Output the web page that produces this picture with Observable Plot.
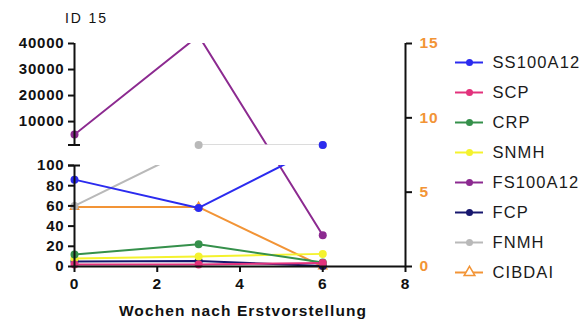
<!DOCTYPE html>
<html><head><meta charset="utf-8">
<script src="https://cdn.jsdelivr.net/npm/d3@7"></script>
<script src="https://cdn.jsdelivr.net/npm/@observablehq/plot@0.6"></script>
<style>
body{margin:0;background:#fff;}
#chart{position:relative;width:587px;height:325px;font-family:"Liberation Sans",Arial,Helvetica,sans-serif;color:#111;}
#chart svg{position:absolute;left:0;top:0;}
#title{position:absolute;left:65px;top:11px;font-size:14px;line-height:14px;letter-spacing:1.9px;}
</style></head><body>
<div id="chart"><div id="title"></div></div>
<script>
// ---- data ----
const title = "ID 15";
const xLabel = "Wochen nach Erstvorstellung";
const weeks = [0, 3, 6];
const seriesNames = ["SS100A12", "SCP", "CRP", "SNMH", "FS100A12", "FCP", "FNMH", "CIBDAI"];
const seriesColors = ["#2b2bef", "#e2327c", "#35904b", "#f4f22e", "#8c2a90", "#17176e", "#b9b9b9", "#f29436"];
const SS100A12 = [86, 58, 1000];
const SCP = [2, 2, 3.5];
const CRP = [12, 22, 4];
const SNMH = [8, 10, 12.5];
const FS100A12 = [5000, 43000, 31];
const FCP = [5, 5.5, 0.5];
const FNMH = [60, 1000, 1000];
const CIBDAI = [4, 4, 0];          // right axis
const xTicks = [0, 2, 4, 6, 8];
const yTicksLower = [0, 20, 40, 60, 80, 100];
const yTicksUpper = [10000, 20000, 30000, 40000];
const yRightTicks = [0, 5, 10, 15];
const lowerMax = 100, upperMin = 1000, upperMax = 40000;
const rightMax = 15;

// ---- layout ----
const W = 587, H = 325, mL = 74, mR = 182, mT = 43, mB = 59;
const breakLowPx = 165, breakHighPx = 144.5;
const orange = seriesColors[7];
const font = '"Liberation Sans", Arial, Helvetica, sans-serif';

const leftValues = {SS100A12, SCP, CRP, SNMH, FS100A12, FCP, FNMH};
const leftNames = seriesNames.filter(n => n !== "CIBDAI");
const drawOrder = leftNames.slice().reverse();
const long = drawOrder.flatMap(name => weeks.map((w, i) => ({series: name, week: w, value: leftValues[name][i]})));
const cib = weeks.map((w, i) => ({series: "CIBDAI", week: w, value: CIBDAI[i]}));
const color = {domain: seriesNames, range: seriesColors};

document.getElementById("title").textContent = title;
const chart = document.getElementById("chart");

// right-axis layer (bottom)
const right = Plot.plot({
  width: W, height: H, marginLeft: mL, marginRight: mR, marginTop: mT, marginBottom: mB,
  x: {domain: [0, 8], axis: null},
  y: {domain: [0, rightMax], axis: null},
  color,
  style: {background: "transparent", fontFamily: font, letterSpacing: "1px", overflow: "visible"},
  marks: [
    Plot.line(cib, {x: "week", y: "value", stroke: "series", strokeWidth: 2}),
    Plot.dot(cib, {x: "week", y: "value", symbol: "triangle", stroke: "series", fill: "white", r: 3, strokeWidth: 1.5}),
    Plot.ruleX([8], {strokeWidth: 2, stroke: "#111"}),
    Plot.axisY(yRightTicks, {anchor: "right", tickSize: 6, tickPadding: 8, strokeWidth: 2, stroke: "#111",
      fill: orange, fontSize: 15.5, fontWeight: "bold", label: null, tickFormat: d => String(d)})
  ]
});
chart.appendChild(right);

// main layer
const main = Plot.plot({
  width: W, height: H, marginLeft: mL, marginRight: mR, marginTop: mT, marginBottom: mB,
  x: {domain: [0, 8]},
  y: {type: "linear", domain: [0, lowerMax, upperMin, upperMax], range: [H - mB, breakLowPx, breakHighPx, mT]},
  color,
  style: {background: "transparent", fontFamily: font, letterSpacing: "0.8px", overflow: "visible"},
  marks: [
    Plot.line(long, {x: "week", y: "value", stroke: "series", z: "series", strokeWidth: 2, clip: true}),
    Plot.rect([{x1: 0, x2: 7.5, y1: lowerMax, y2: upperMin}], {x1: "x1", x2: "x2", y1: "y1", y2: "y2", fill: "white"}),
    Plot.dot(long, {filter: d => d.value <= upperMax, x: "week", y: "value", fill: "series", r: 4}),
    Plot.ruleY([0], {strokeWidth: 2, stroke: "#111"}),
    Plot.ruleX([{y1: 0, y2: lowerMax}, {y1: upperMin, y2: upperMax}], {x: 0, y1: "y1", y2: "y2", strokeWidth: 2, stroke: "#111"}),
    Plot.axisY([...yTicksLower, ...yTicksUpper], {anchor: "left", tickSize: 6, tickPadding: 4, strokeWidth: 2, stroke: "#111",
      fill: "#111", fontSize: 15, fontWeight: "bold", label: null, tickFormat: d => String(d)}),
    Plot.axisY([lowerMax, upperMin], {anchor: "left", tickSize: 12, dx: 6, strokeWidth: 2, stroke: "#111", label: null, tickFormat: () => ""}),
    Plot.axisX(xTicks, {anchor: "bottom", tickSize: 6, tickPadding: 5, strokeWidth: 2, stroke: "#111",
      fill: "#111", fontSize: 15.5, fontWeight: "bold", label: null, tickFormat: d => String(d)}),
    Plot.text([xLabel], {frameAnchor: "bottom", dy: 49, dx: 3, text: d => d, fontSize: 15.5, fontWeight: "bold", fill: "#111"})
  ]
});
main.querySelectorAll("text").forEach(t => { if (t.textContent === xLabel) t.style.letterSpacing = "1.1px"; });
chart.appendChild(main);

// legend layer
const legend = Plot.plot({
  width: W, height: H, margin: 0,
  x: {domain: [0, 1], range: [455, 483], axis: null},
  y: {type: "point", domain: seriesNames, range: [61, 272], padding: 0, axis: null},
  color,
  style: {background: "transparent", fontFamily: font, letterSpacing: "1.1px", overflow: "visible"},
  marks: [
    Plot.ruleY(seriesNames, {y: d => d, x1: 0, x2: 1, stroke: d => d, strokeWidth: 2}),
    Plot.dot(seriesNames.filter(n => n !== "CIBDAI"), {x: 0.5, y: d => d, fill: d => d, r: 3.5}),
    Plot.dot(["CIBDAI"], {x: 0.5, y: d => d, symbol: "triangle", stroke: d => d, fill: "white", r: 4, strokeWidth: 1.5}),
    Plot.text(seriesNames, {x: 1, y: d => d, text: d => d, dx: 9, textAnchor: "start", fontSize: 16.5, fill: "#1a1a1a"})
  ]
});
chart.appendChild(legend);
</script>
</body></html>
